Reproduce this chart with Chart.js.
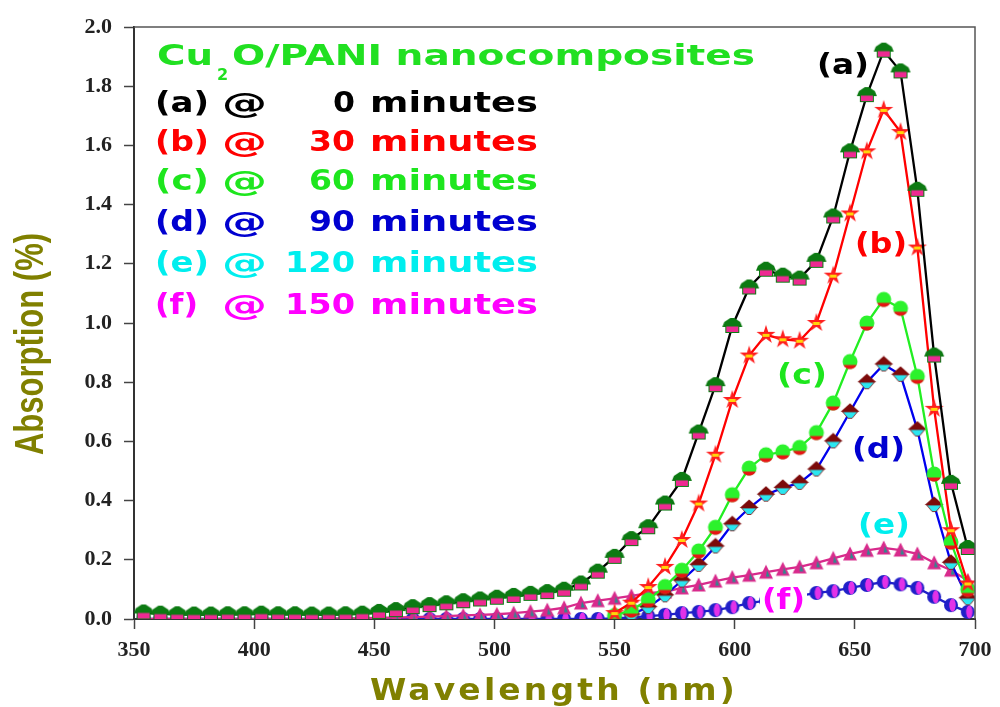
<!DOCTYPE html>
<html>
<head>
<meta charset="utf-8">
<script src="https://cdn.jsdelivr.net/npm/chart.js@4.4.1/dist/chart.umd.min.js"></script>
<style>
  html, body { margin: 0; padding: 0; background: #fff; }
  #wrap { width: 1000px; height: 707px; position: relative; }
</style>
</head>
<body>
<div id="wrap"><canvas id="uvChart"></canvas></div>
<script>
// wavelength (nm) of each sampled point
const wavelengths = [354, 361, 368, 375, 382, 389, 396, 403, 410, 417,
  424, 431, 438, 445, 452, 459, 466, 473, 480, 487,
  494, 501, 508, 515, 522, 529, 536, 543, 550, 557,
  564, 571, 578, 585, 592, 599, 606, 613, 620, 627,
  634, 641, 648, 655, 662, 669, 676, 683, 690, 697];

// absorption, one array per irradiation time
const abs0 = [0.022, 0.018, 0.016, 0.015, 0.015, 0.016, 0.016, 0.018, 0.016, 0.016,
  0.015, 0.015, 0.016, 0.018, 0.024, 0.03, 0.04, 0.047, 0.053, 0.06,
  0.066, 0.072, 0.078, 0.085, 0.091, 0.099, 0.12, 0.16, 0.21, 0.27,
  0.31, 0.39, 0.47, 0.63, 0.79, 0.99, 1.12, 1.18, 1.16, 1.15,
  1.21, 1.36, 1.58, 1.77, 1.92, 1.85, 1.45, 0.89, 0.46, 0.24];
const abs30 = [null, null, null, null, null, null, null, null, null, null,
  null, null, null, null, null, null, null, null, null, null,
  null, null, null, null, null, null, null, null, 0.02, 0.055,
  0.108, 0.176, 0.267, 0.39, 0.555, 0.74, 0.89, 0.96, 0.945, 0.94,
  1.0, 1.16, 1.37, 1.58, 1.72, 1.645, 1.255, 0.71, 0.30, 0.12];
const abs60 = [null, null, null, null, null, null, null, null, null, null,
  null, null, null, null, null, null, null, null, null, null,
  null, null, null, null, null, null, null, null, 0.012, 0.03,
  0.065, 0.11, 0.165, 0.23, 0.31, 0.42, 0.51, 0.555, 0.565, 0.58,
  0.63, 0.73, 0.87, 1.0, 1.08, 1.05, 0.82, 0.49, 0.26, 0.10];
const abs90 = [null, null, null, null, null, null, null, null, null, null,
  null, null, null, null, null, null, null, null, null, null,
  null, null, null, null, null, null, null, null, null, 0.015,
  0.04, 0.08, 0.13, 0.183, 0.245, 0.32, 0.375, 0.42, 0.443, 0.46,
  0.505, 0.60, 0.70, 0.80, 0.86, 0.825, 0.64, 0.385, 0.19, 0.07];
const abs120 = [0, 0, 0, 0, 0, 0, 0, 0, 0, 0,
  0, 0.001, 0.002, 0.003, 0.004, 0.005, 0.006, 0.008, 0.01, 0.012,
  0.014, 0.016, 0.02, 0.025, 0.03, 0.038, 0.054, 0.062, 0.07, 0.078,
  0.087, 0.092, 0.105, 0.115, 0.128, 0.14, 0.148, 0.158, 0.168, 0.176,
  0.19, 0.205, 0.22, 0.232, 0.24, 0.233, 0.22, 0.19, 0.165, 0.13];
const abs150 = [0, 0, 0, 0, 0, 0, 0, 0, 0, 0,
  0, 0, 0, 0, 0, 0, 0, 0, 0, 0,
  0, 0, 0, 0, 0, 0, 0, 0, 0.002, 0.005,
  0.01, 0.014, 0.02, 0.024, 0.03, 0.04, 0.054, 0.062, 0.07, 0.078,
  0.088, 0.094, 0.105, 0.115, 0.125, 0.117, 0.105, 0.075, 0.047, 0.024];

const seriesTags = ["(a)", "(b)", "(c)", "(d)", "(e)", "(f)"];
const minutes = [0, 30, 60, 90, 120, 150];
const tagColors = ["#000000", "#ff0000", "#1ee61e", "#0000d0", "#00eeee", "#ff00ff"];

const xTicks = [350, 400, 450, 500, 550, 600, 650, 700];

// little canvases used as point markers
function marker(w, h, paint) {
  const c = document.createElement("canvas");
  c.width = w;
  c.height = h;
  const g = c.getContext("2d");
  g.translate(w / 2, h / 2);
  paint(g);
  return c;
}

const houseMark = marker(22, 18, (g) => {
  g.fillStyle = "#0c7a12";
  g.beginPath();
  g.moveTo(-10, 1); g.lineTo(-8, -4); g.lineTo(-2, -8);
  g.lineTo(2, -8); g.lineTo(8, -4); g.lineTo(10, 1);
  g.closePath();
  g.fill();
  g.fillStyle = "#ee2a92";
  g.fillRect(-6.5, 0, 13, 6.5);
  g.strokeStyle = "#0c7a12";
  g.lineWidth = 1;
  g.strokeRect(-6.5, 0, 13, 6.5);
});

const starMark = marker(22, 22, (g) => {
  g.fillStyle = "#ff1e1e";
  g.beginPath();
  for (let k = 0; k < 10; k++) {
    const r = k % 2 ? 3.8 : 10;
    const a = -Math.PI / 2 + (k * Math.PI) / 5;
    g.lineTo(r * Math.cos(a), r * Math.sin(a));
  }
  g.closePath();
  g.fill();
  g.fillStyle = "#ffd60a";
  g.fillRect(-3.5, -1, 7, 3);
});

const ballMark = marker(18, 18, (g) => {
  g.beginPath();
  g.arc(0, 0, 7.5, 0, 2 * Math.PI);
  g.fillStyle = "#2cf22c";
  g.fill();
  g.beginPath();
  g.arc(0, 0, 7.5, 0.15 * Math.PI, 0.85 * Math.PI);
  g.closePath();
  g.fillStyle = "#e81414";
  g.fill();
});

const kiteMark = marker(22, 18, (g) => {
  g.fillStyle = "#7c0a0a";
  g.beginPath();
  g.moveTo(0, -8.5); g.lineTo(9.5, 0); g.lineTo(-9.5, 0);
  g.closePath();
  g.fill();
  g.fillStyle = "#2ae6f0";
  g.beginPath();
  g.moveTo(-7.5, 0); g.lineTo(7.5, 0); g.lineTo(2, 6.5); g.lineTo(-2, 6.5);
  g.closePath();
  g.fill();
  g.strokeStyle = "#7c0a0a";
  g.lineWidth = 0.8;
  g.stroke();
});

const triMark = marker(16, 16, (g) => {
  g.fillStyle = "#d82a8c";
  g.beginPath();
  g.moveTo(0, -7.5); g.lineTo(7, 6.5); g.lineTo(-7, 6.5);
  g.closePath();
  g.fill();
  g.fillStyle = "#2b8c8f";
  g.beginPath();
  g.moveTo(1, -2); g.lineTo(3.8, 4.5); g.lineTo(0, 4.5);
  g.closePath();
  g.fill();
});

const beadMark = marker(16, 16, (g) => {
  g.beginPath();
  g.arc(0, 0, 7, 0, 2 * Math.PI);
  g.fillStyle = "#2020c8";
  g.fill();
  g.beginPath();
  g.ellipse(1.5, 0, 3.2, 6.5, 0, 0, 2 * Math.PI);
  g.fillStyle = "#e232e8";
  g.fill();
});

function pts(vals) {
  return wavelengths.map((w, i) => ({ x: w, y: vals[i] }));
}

function series(vals, lineColor, mark) {
  return {
    data: pts(vals),
    borderColor: lineColor,
    borderWidth: 2.3,
    pointStyle: mark,
    pointRadius: 8,
    pointHoverRadius: 8,
    tension: 0,
  };
}

// stretch a string horizontally so it covers a given width
function stretchText(ctx, text, x, y, width, align) {
  const natural = ctx.measureText(text).width;
  ctx.save();
  ctx.translate(align === "right" ? x - width : x, y);
  ctx.scale(width / natural, 1);
  ctx.textAlign = "left";
  ctx.fillText(text, 0, 0);
  ctx.restore();
}

const decorations = {
  id: "decorations",
  afterDatasetsDraw(chart) {
    const { ctx, chartArea: area } = chart;
    ctx.save();
    // frame top / right
    ctx.strokeStyle = "#555";
    ctx.lineWidth = 1.5;
    ctx.beginPath();
    ctx.moveTo(area.left, area.top);
    ctx.lineTo(area.right, area.top);
    ctx.lineTo(area.right, area.bottom);
    ctx.stroke();

    ctx.textBaseline = "alphabetic";

    // legend block
    ctx.fillStyle = "#21e021";
    ctx.font = "bold 28px 'DejaVu Sans'";
    stretchText(ctx, "Cu", 157, 65, 56);
    stretchText(ctx, "O/PANI nanocomposites", 232, 65, 523);
    ctx.font = "bold 16px 'DejaVu Sans'";
    ctx.fillText("2", 217, 80);

    const baselines = [112, 151, 190, 231, 272, 314];
    ctx.font = "bold 29px 'DejaVu Sans'";
    seriesTags.forEach((tag, i) => {
      ctx.fillStyle = tagColors[i];
      const y = baselines[i];
      stretchText(ctx, tag, 155, y, tag === "(f)" ? 43 : 54);
      stretchText(ctx, "@", 222, y + 1, 45);
      const num = String(minutes[i]);
      stretchText(ctx, num, 355, y, 24 * num.length - 2, "right");
      stretchText(ctx, "minutes", 370, y, 168);
    });

    // curve tags
    const tagSpots = [[817, 74, 52], [855, 253, 52], [777, 384, 50], [852, 458, 53], [858, 534, 52], [762, 609, 43]];
    ctx.font = "bold 28px 'DejaVu Sans'";
    tagSpots.forEach(([x, y, w], i) => {
      if (i === 5) {
        ctx.fillStyle = "#fff";
        ctx.fillRect(x - 2, y - 24, w + 4, 30);
      }
      ctx.fillStyle = tagColors[i];
      stretchText(ctx, seriesTags[i], x, y, w);
    });

    // axis titles
    ctx.fillStyle = "#808000";
    ctx.font = "bold 31px 'DejaVu Sans'";
    ctx.letterSpacing = "3px";
    stretchText(ctx, "Wavelength (nm)", 370, 700, 368);
    ctx.letterSpacing = "0px";

    ctx.save();
    ctx.translate(43, 455);
    ctx.rotate(-Math.PI / 2);
    ctx.font = "bold 40px 'Liberation Sans'";
    stretchText(ctx, "Absorption (%)", 0, 0, 222);
    ctx.restore();

    ctx.restore();
  },
};

const tickFont = { family: "'Liberation Serif'", weight: "bold", size: 22 };

new Chart(document.getElementById("uvChart"), {
  type: "line",
  data: {
    datasets: [
      series(abs0, "#000000", houseMark),
      series(abs30, "#ff0000", starMark),
      series(abs60, "#22ee22", ballMark),
      series(abs90, "#0000ee", kiteMark),
      series(abs120, "#d82a8c", triMark),
      series(abs150, "#2020c8", beadMark),
    ],
  },
  options: {
    responsive: true,
    maintainAspectRatio: false,
    animation: false,
    layout: { padding: { top: 27, right: 25, left: 0, bottom: 0 } },
    plugins: { legend: { display: false }, tooltip: { enabled: false } },
    scales: {
      x: {
        type: "linear",
        min: 350,
        max: 700,
        afterBuildTicks: (s) => { s.ticks = xTicks.map((v) => ({ value: v })); },
        ticks: { color: "#222", font: tickFont, padding: 8, maxRotation: 0 },
        grid: { drawOnChartArea: false, tickLength: 10, color: "#444", tickWidth: 1.5 },
        border: { color: "#333", width: 2 },
        afterFit: (s) => { s.height = 88; },
      },
      y: {
        min: 0,
        max: 2,
        ticks: { stepSize: 0.2, color: "#222", font: tickFont, padding: 12, callback: (v) => v.toFixed(1) },
        grid: { drawOnChartArea: false, tickLength: 10, color: "#444", tickWidth: 1.5 },
        border: { color: "#333", width: 2 },
        afterFit: (s) => { s.width = 134; },
      },
    },
  },
  plugins: [decorations],
});
</script>
</body>
</html>
